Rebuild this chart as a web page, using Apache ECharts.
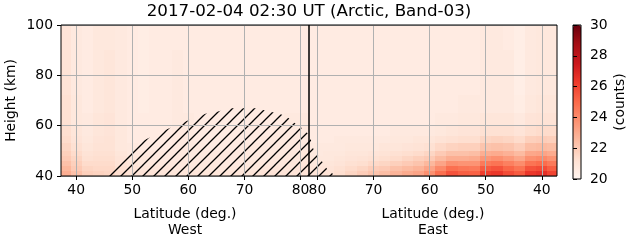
<!DOCTYPE html>
<html><head><meta charset="utf-8">
<script src="https://cdn.jsdelivr.net/npm/echarts@6/dist/echarts.min.js"></script>
<style>html,body{margin:0;padding:0;background:#fff}#c{width:631px;height:243px}</style>
</head><body><div id="c"></div>
<script>
const titleText = '2017-02-04 02:30 UT (Arctic, Band-03)';
const latMin = 37.3, latMax = 81.5;
const latCenters = [38,40,42,44,46,48,50,52,54,56,58,60,62,64,66,68,70,72,74,76,78,80];
const heightEdges = [40,42,44,46,48,50,53,56,60,65,72,80,90,100];
const latTicks = [40,50,60,70,80];
const countRange = [20,30];
const redsColors = ['#fff5f0','#fee0d2','#fcbba1','#fc9272','#fb6a4a','#ef3b2c','#cb181d','#a50f15','#67000d'];

// rows bottom -> top, columns follow latCenters
const westCounts = [
 [22.9,22.3,21.8,21.7,21.6,21.3,21.1,21.0,21.0,20.9,20.9,20.9,20.9,20.9,20.9,20.9,20.9,20.9,21.0,21.0,21.0,21.0],
 [22.6,22.0,21.6,21.5,21.5,21.2,21.0,20.9,20.9,20.9,20.8,20.8,20.8,20.8,20.8,20.8,20.8,20.8,20.9,20.9,20.9,21.0],
 [22.3,21.8,21.4,21.4,21.4,21.1,20.9,20.8,20.8,20.8,20.8,20.8,20.8,20.8,20.7,20.7,20.7,20.8,20.8,20.8,20.9,20.9],
 [22.0,21.6,21.2,21.3,21.3,21.0,20.8,20.8,20.7,20.7,20.7,20.7,20.7,20.7,20.7,20.7,20.7,20.7,20.7,20.8,20.8,20.8],
 [21.8,21.4,21.1,21.2,21.2,20.9,20.7,20.7,20.7,20.7,20.7,20.7,20.7,20.7,20.7,20.7,20.7,20.7,20.7,20.7,20.8,20.8],
 [21.6,21.2,20.9,21.1,21.1,20.8,20.7,20.6,20.6,20.6,20.7,20.7,20.7,20.6,20.6,20.6,20.7,20.7,20.7,20.7,20.7,20.7],
 [21.4,21.0,20.8,21.0,21.1,20.8,20.6,20.6,20.6,20.6,20.7,20.7,20.6,20.6,20.6,20.6,20.6,20.6,20.7,20.7,20.7,20.7],
 [21.3,20.9,20.7,20.9,21.0,20.8,20.6,20.6,20.6,20.6,20.7,20.7,20.6,20.6,20.6,20.6,20.6,20.6,20.6,20.7,20.7,20.7],
 [21.2,20.8,20.7,20.9,21.0,20.7,20.6,20.6,20.6,20.6,20.7,20.7,20.6,20.6,20.6,20.6,20.6,20.6,20.6,20.6,20.7,20.7],
 [21.2,20.8,20.6,20.8,20.9,20.7,20.6,20.5,20.6,20.6,20.7,20.6,20.6,20.6,20.6,20.6,20.6,20.6,20.6,20.6,20.6,20.6],
 [21.1,20.7,20.6,20.8,20.9,20.7,20.6,20.5,20.6,20.6,20.7,20.6,20.6,20.6,20.6,20.6,20.6,20.6,20.6,20.6,20.6,20.6],
 [21.1,20.7,20.6,20.8,20.9,20.7,20.6,20.5,20.6,20.6,20.7,20.6,20.6,20.6,20.6,20.6,20.6,20.6,20.6,20.6,20.6,20.6],
 [21.0,20.7,20.6,20.8,20.8,20.7,20.6,20.5,20.6,20.6,20.6,20.6,20.6,20.6,20.6,20.6,20.6,20.6,20.6,20.6,20.6,20.6]
];
const eastCounts = [
 [26.0,26.6,26.4,25.4,25.8,26.4,26.2,25.2,25.3,25.6,24.8,23.8,23.2,23.0,22.7,22.4,22.2,21.9,21.6,21.3,21.1,21.0],
 [25.3,25.8,25.6,24.7,25.1,25.6,25.4,24.5,24.6,24.8,24.0,23.2,22.7,22.5,22.3,22.0,21.9,21.6,21.4,21.2,21.0,20.9],
 [24.5,24.9,24.7,23.9,24.3,24.7,24.5,23.7,23.7,23.8,23.2,22.6,22.2,22.0,21.8,21.6,21.5,21.3,21.2,21.0,20.9,20.8],
 [23.7,24.0,23.8,23.1,23.5,23.8,23.6,23.0,22.9,22.9,22.5,22.0,21.8,21.6,21.4,21.3,21.2,21.1,21.0,20.9,20.8,20.8],
 [23.0,23.2,23.1,22.5,22.8,23.0,22.9,22.4,22.3,22.3,22.0,21.6,21.4,21.3,21.2,21.1,21.0,20.9,20.9,20.8,20.8,20.7],
 [22.4,22.5,22.4,21.9,22.2,22.3,22.2,21.8,21.8,21.7,21.5,21.2,21.1,21.0,20.9,20.9,20.8,20.8,20.8,20.7,20.7,20.7],
 [21.8,21.9,21.8,21.4,21.6,21.7,21.6,21.3,21.3,21.2,21.1,20.9,20.9,20.8,20.8,20.7,20.7,20.7,20.7,20.7,20.6,20.6],
 [21.4,21.4,21.3,21.0,21.2,21.2,21.2,21.0,21.0,20.9,20.8,20.7,20.7,20.7,20.7,20.6,20.6,20.6,20.6,20.6,20.6,20.6],
 [21.1,21.1,21.0,20.7,20.9,20.9,20.9,20.8,20.8,20.7,20.7,20.6,20.6,20.6,20.6,20.6,20.6,20.6,20.6,20.6,20.6,20.6],
 [20.9,20.9,20.8,20.5,20.7,20.7,20.7,20.7,20.7,20.6,20.6,20.6,20.6,20.6,20.6,20.6,20.6,20.6,20.6,20.6,20.6,20.6],
 [20.8,20.8,20.7,20.4,20.7,20.7,20.7,20.6,20.6,20.6,20.6,20.6,20.6,20.6,20.6,20.6,20.6,20.6,20.6,20.6,20.6,20.6],
 [20.8,20.8,20.7,20.4,20.7,20.7,20.7,20.6,20.6,20.6,20.6,20.6,20.6,20.6,20.6,20.6,20.6,20.6,20.6,20.6,20.6,20.6],
 [20.8,20.8,20.7,20.4,20.6,20.7,20.7,20.6,20.6,20.6,20.6,20.6,20.6,20.6,20.6,20.6,20.6,20.6,20.6,20.6,20.6,20.6]
];
// hatched region outline [latitude, height]
const hatchWest = [[45.3,40],[50.8,52.8],[56.2,58.6],[59.7,61.9],[63.3,64.9],[65.3,65.6],[67.4,66.9],[72.2,66.9],[74.3,65.6],[76,64.9],[77.5,63.6],[79,61],[80.2,59.1],[81.5,56.5],[81.5,40]];
const hatchEast = [[81.5,56.5],[81.3,55.5],[80.7,50.6],[79.8,47.8],[78.3,42.9],[76.8,40],[81.5,40]];

function buildCells(counts){
  const edges = [latMin];
  for (let j = 0; j < latCenters.length - 1; j++) edges.push((latCenters[j] + latCenters[j+1]) / 2);
  edges.push(latMax);
  const out = [];
  counts.forEach((row, i) => row.forEach((v, j) => {
    out.push([edges[j], edges[j+1], heightEdges[i], heightEdges[i+1], v]);
  }));
  return out;
}
function renderCell(params, api){
  const a = api.coord([api.value(0), api.value(3)]);
  const b = api.coord([api.value(1), api.value(2)]);
  const x = Math.round(Math.min(a[0], b[0])), x2 = Math.round(Math.max(a[0], b[0]));
  const y = Math.round(a[1]), y2 = Math.round(b[1]);
  return {type:'rect', shape:{x:x, y:y, width:x2-x, height:y2-y}, style:{fill: api.visual('color')}};
}
function makeHatch(){
  const s = 11, c = document.createElement('canvas'); c.width = s; c.height = s;
  const g = c.getContext('2d'); g.strokeStyle = '#000'; g.lineWidth = 1.3;
  g.beginPath();
  g.moveTo(-2, s+2); g.lineTo(s+2, -2);
  g.moveTo(-2, 2); g.lineTo(2, -2);
  g.moveTo(s-2, s+2); g.lineTo(s+2, s-2);
  g.stroke();
  return c;
}
const hatchImg = makeHatch();
function renderHatch(points){
  return function(params, api){
    return {type:'polygon', shape:{points: points.map(p => api.coord(p))},
      style:{fill:{image: hatchImg, repeat:'repeat'}, stroke:null}};
  };
}

const FONT = 'DejaVu Sans';
const fs = 13.9;
function xAxisCfg(gridIndex, inverse, name){
  return {type:'value', gridIndex, min:latMin, max:latMax, inverse, z:3,
    name, nameLocation:'middle', nameGap:30,
    nameTextStyle:{fontSize:fs, fontFamily:FONT, color:'#000', lineHeight:16},
    axisLine:{show:false},
    axisTick:{show:true, length:4, customValues:latTicks, lineStyle:{color:'#000', width:1}},
    axisLabel:{customValues:latTicks, margin:7, fontSize:fs, fontFamily:FONT, color:'#000'},
    splitLine:{show:true, lineStyle:{color:'#b0b0b0', width:1}}};
}
const chart = echarts.init(document.getElementById('c'), null, {renderer:'canvas'});
chart.setOption({
  animation:false,
  backgroundColor:'#fff',
  graphic:[{type:'text', x:309, y:12, z:10,
    style:{text:titleText, fontSize:16.7, fontFamily:FONT, fill:'#000', align:'center', verticalAlign:'middle', textAlign:'center', textVerticalAlign:'middle'}}],
  grid:[
    {left:61, top:25, width:248, height:154, show:true, borderColor:'#000', borderWidth:1, backgroundColor:'transparent', z:4},
    {left:309, top:25, width:248, height:154, show:true, borderColor:'#000', borderWidth:1, backgroundColor:'transparent', z:4},
    {left:573, top:25, width:8, height:154, show:true, borderColor:'#000', borderWidth:1, backgroundColor:'transparent', z:6}
  ],
  xAxis:[
    xAxisCfg(0, false, 'Latitude (deg.)\nWest'),
    xAxisCfg(1, true, 'Latitude (deg.)\nEast'),
    {type:'value', gridIndex:2, min:0, max:1, show:false}
  ],
  yAxis:[
    {type:'value', gridIndex:0, min:40, max:100, interval:20, z:3,
      name:'Height (km)', nameLocation:'middle', nameGap:43, nameRotate:90,
      nameTextStyle:{fontSize:fs, fontFamily:FONT, color:'#000'},
      axisLine:{show:false},
      axisTick:{show:true, length:4, lineStyle:{color:'#000', width:1}},
      axisLabel:{margin:8, fontSize:fs, fontFamily:FONT, color:'#000'},
      splitLine:{show:true, lineStyle:{color:'#b0b0b0', width:1}}},
    {type:'value', gridIndex:1, min:40, max:100, interval:20, z:3,
      axisLine:{show:false}, axisTick:{show:false}, axisLabel:{show:false},
      splitLine:{show:true, lineStyle:{color:'#b0b0b0', width:1}}},
    {type:'value', gridIndex:2, min:countRange[0], max:countRange[1], interval:2, position:'right', z:7,
      name:'(counts)', nameLocation:'middle', nameGap:32, nameRotate:90,
      nameTextStyle:{fontSize:fs, fontFamily:FONT, color:'#000'},
      axisLine:{show:false},
      axisTick:{show:true, length:4, lineStyle:{color:'#000', width:1}},
      axisLabel:{margin:9, fontSize:fs, fontFamily:FONT, color:'#000'},
      splitLine:{show:false}}
  ],
  visualMap:{type:'continuous', min:countRange[0], max:countRange[1], seriesIndex:[0,1], dimension:4,
    inRange:{color:redsColors}, show:true, orient:'vertical', left:573, top:25, itemWidth:8, itemHeight:154,
    padding:0, calculable:false, hoverLink:false, z:5},
  series:[
    {type:'custom', xAxisIndex:0, yAxisIndex:0, data:buildCells(westCounts), renderItem:renderCell, silent:true, z:1,
      encode:{x:[0,1], y:[2,3]}},
    {type:'custom', xAxisIndex:1, yAxisIndex:1, data:buildCells(eastCounts), renderItem:renderCell, silent:true, z:1,
      encode:{x:[0,1], y:[2,3]}},
    {type:'custom', xAxisIndex:0, yAxisIndex:0, data:[hatchWest[0]], renderItem:renderHatch(hatchWest), silent:true, z:2},
    {type:'custom', xAxisIndex:1, yAxisIndex:1, data:[hatchEast[0]], renderItem:renderHatch(hatchEast), silent:true, z:2}
  ]
});
</script></body></html>
